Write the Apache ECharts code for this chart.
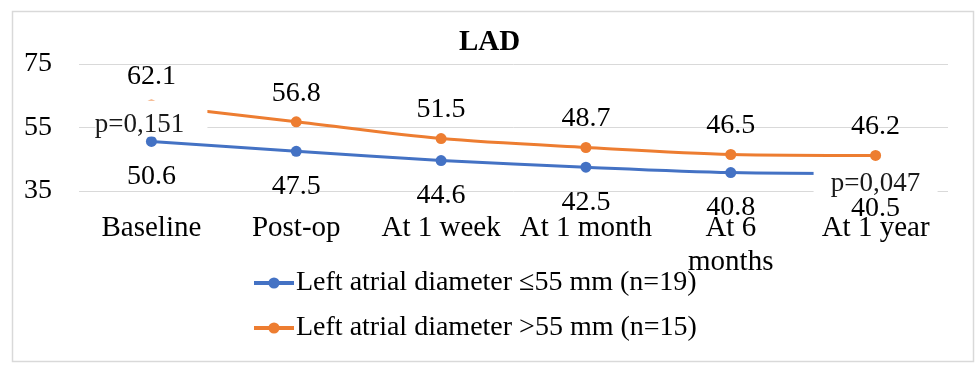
<!DOCTYPE html>
<html>
<head>
<meta charset="utf-8">
<script src="https://cdn.jsdelivr.net/npm/echarts@6/dist/echarts.min.js"></script>
<style>
  html, body { margin: 0; padding: 0; background: #fff; }
  #main { width: 979px; height: 369px; }
</style>
</head>
<body>
<div id="main"></div>
<script>
var categories = ['Baseline', 'Post-op', 'At 1 week', 'At 1 month', 'At 6 months', 'At 1 year'];
var smallLA = [50.6, 47.5, 44.6, 42.5, 40.8, 40.5];
var largeLA = [62.1, 56.8, 51.5, 48.7, 46.5, 46.2];
var seriesNames = ['Left atrial diameter \u226455 mm (n=19)', 'Left atrial diameter >55 mm (n=15)'];
var yTicks = { min: 35, max: 75, step: 20 };
// p-value notes: [category, value where the note box sits, text]
var pNotes = [
    ['Baseline', 57.8, 'p=0,151'],
    ['At 1 year', 38.9, 'p=0,047']
];

var FONT = '"Liberation Serif", "Times New Roman", serif';
var chart1 = echarts.init(document.getElementById('main'));

var option = {
    backgroundColor: '#fff',
    color: ['#4472C4', '#ED7D31'],
    animation: false,
    textStyle: { fontFamily: FONT },
    title: {
        text: 'LAD',
        left: 'center',
        top: 28,
        padding: 0,
        textStyle: { fontFamily: FONT, fontWeight: 'bold', fontSize: 29, color: '#000' }
    },
    graphic: [{
        type: 'rect',
        left: 10, top: 9,
        shape: { width: 961, height: 350 },
        style: { fill: 'none', stroke: '#d9d9d9', lineWidth: 1.5 },
        silent: true
    }],
    legend: {
        orient: 'vertical',
        left: 252,
        top: 269,
        itemWidth: 40,
        itemHeight: 14,
        itemGap: 17,
        padding: 0,
        data: seriesNames,
        lineStyle: { width: 4 },
        textStyle: { fontFamily: FONT, fontSize: 28, color: '#000', padding: [0, 0, 0, -3] }
    },
    grid: { left: 79, right: 31, top: 64, bottom: 178 },
    xAxis: {
        type: 'category',
        data: categories,
        boundaryGap: true,
        axisLine: { show: false },
        axisTick: { show: false },
        axisLabel: {
            margin: 20,
            interval: 0,
            color: '#000',
            fontFamily: FONT,
            fontSize: 29,
            lineHeight: 34,
            formatter: function (v) { return v.replace(' months', '\nmonths'); }
        }
    },
    yAxis: {
        type: 'value',
        min: yTicks.min,
        max: yTicks.max,
        interval: yTicks.step,
        axisLine: { show: false },
        axisTick: { show: false },
        axisLabel: { margin: 27, color: '#000', fontFamily: FONT, fontSize: 28, padding: [5, 0, 0, 0] },
        splitLine: { lineStyle: { color: '#d9d9d9', width: 1 } }
    },
    series: [
        {
            name: seriesNames[0],
            type: 'line',
            data: smallLA,
            smooth: 0.3,
            symbol: 'circle',
            symbolSize: 11,
            lineStyle: { width: 3 },
            label: {
                show: true, position: 'bottom', distance: 16,
                color: '#000', fontFamily: FONT, fontSize: 28,
                formatter: function (p) { return p.value.toFixed(1); }
            }
        },
        {
            name: seriesNames[1],
            type: 'line',
            data: largeLA,
            smooth: 0.3,
            symbol: 'circle',
            symbolSize: 11,
            lineStyle: { width: 3 },
            label: {
                show: true, position: 'top', distance: 9,
                color: '#000', fontFamily: FONT, fontSize: 28,
                formatter: function (p) { return p.value.toFixed(1); }
            },
            markPoint: {
                z: 6,
                silent: true,
                symbol: 'rect',
                itemStyle: { color: '#fff' },
                label: {
                    show: true, position: 'inside',
                    color: '#1a1a1a', fontFamily: FONT, fontSize: 27
                },
                data: [
                    {
                        coord: [pNotes[0][0], pNotes[0][1]],
                        symbolSize: [112, 36],
                        label: { formatter: pNotes[0][2], offset: [-12, 6] }
                    },
                    {
                        coord: [pNotes[1][0], pNotes[1][1]],
                        symbolSize: [124, 32],
                        label: { formatter: pNotes[1][2], offset: [0, 5] }
                    }
                ]
            }
        }
    ]
};

chart1.setOption(option);
</script>
</body>
</html>
